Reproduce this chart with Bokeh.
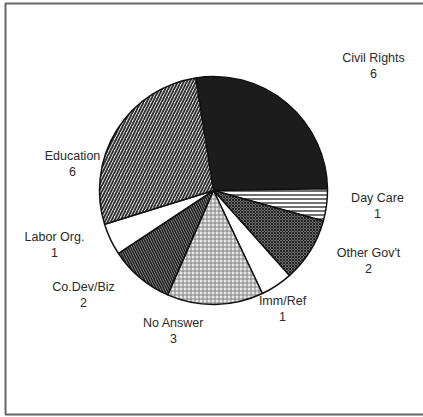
import math
from bokeh.plotting import figure
from bokeh.models import ColumnDataSource, Range1d
from bokeh.core.properties import value
from bokeh.embed import file_html
from bokeh.resources import INLINE

# ---- data ----
categories = ["Civil Rights", "Day Care", "Other Gov't", "Imm/Ref",
              "No Answer", "Co.Dev/Biz", "Labor Org.", "Education"]
counts = [6, 1, 2, 1, 3, 2, 1, 6]

# ---- style / layout ----
fills = ["#1c1c1c", "white", "#6e6e6e", "white", "#e8e8e8", "#9a9a9a", "white", "#dcdcdc"]
hatches = ["blank", "horizontal_line", "diagonal_cross", "blank", "cross",
           "left_diagonal_line", "blank", "right_diagonal_line"]
hatch_colors = ["#1c1c1c", "#222222", "#222222", "#222222", "#777777",
                "#1e1e1e", "#222222", "#2a2a2a"]
hatch_scales = [4, 4, 3, 4, 4, 5, 4, 6]
hatch_weights = [1, 1.3, 1, 1, 0.9, 1.6, 1, 1.7]
# label anchor (pixel coords from top-left) of the name line
label_pos = [(373, 57), (377, 197), (368, 252), (282, 300),
             (173, 322), (83, 286), (54, 236), (72, 155)]

W, H = 423, 417
cx, cy, r = 213, H - 190, 114
start_deg = 99.0

total = sum(counts)
starts, ends = [], []
cum = 0
for c in counts:
    a_end = math.radians(start_deg - cum / total * 360)
    a_start = math.radians(start_deg - (cum + c) / total * 360)
    starts.append(a_start)
    ends.append(a_end)
    cum += c

src = ColumnDataSource(dict(
    cat=categories, n=counts, start=starts, end=ends, fill=fills,
    hatch=hatches, hcol=hatch_colors, hscale=hatch_scales, hw=hatch_weights,
))

p = figure(width=W, height=H, x_range=Range1d(0, W), y_range=Range1d(0, H),
           output_backend="svg", toolbar_location=None, min_border=0)
p.axis.visible = False
p.grid.visible = False
p.outline_line_color = None
p.background_fill_color = "white"

# scanned frame (top, left, bottom)
p.line([W, 5, 5, W], [H - 3, H - 3, H - 414, H - 414],
       line_color="#666666", line_width=2)

p.wedge(x=cx, y=cy, radius=r, start_angle="start", end_angle="end",
        source=src, fill_color="fill", line_color="#111111", line_width=1.5,
        hatch_pattern="hatch", hatch_color="hcol", hatch_scale="hscale",
        hatch_weight="hw")

lx = [pt[0] for pt in label_pos]
ly_name = [H - pt[1] for pt in label_pos]
ly_num = [H - pt[1] - 16 for pt in label_pos]
lsrc = ColumnDataSource(dict(x=lx, yn=ly_name, yv=ly_num, cat=categories,
                             num=[str(c) for c in counts]))
for ycol, tcol in (("yn", "cat"), ("yv", "num")):
    p.text(x="x", y=ycol, text=tcol, source=lsrc, text_align="center",
           text_baseline="middle", text_font=value("Liberation Sans"),
           text_font_size="12.5px", text_color="#2a2a2a")

open("out.html", "w").write(file_html(p, INLINE))
